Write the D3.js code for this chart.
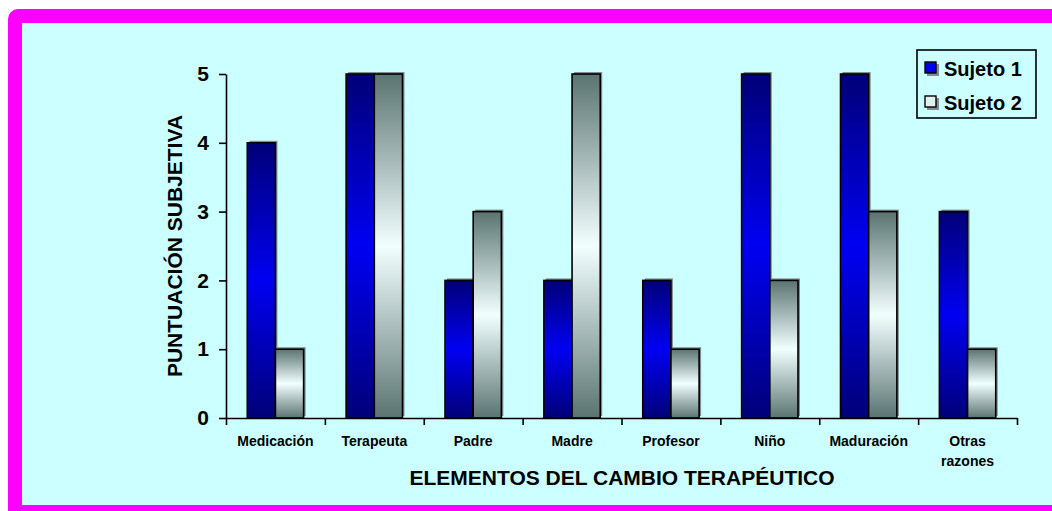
<!DOCTYPE html>
<html>
<head>
<meta charset="utf-8">
<script src="https://cdn.jsdelivr.net/npm/d3@7"></script>
<style>
  body { margin: 0; background: #fff; }
  svg { display: block; font-family: Arial, "Liberation Sans", sans-serif; font-weight: bold; }
</style>
</head>
<body>
<div id="chart"></div>
<script>
const categories = ["Medicación", "Terapeuta", "Padre", "Madre", "Profesor", "Niño", "Maduración", "Otras razones"];
const seriesNames = ["Sujeto 1", "Sujeto 2"];
const sujeto1 = [4, 5, 2, 2, 2, 5, 5, 3];
const sujeto2 = [1, 5, 3, 5, 1, 2, 3, 1];
const yTicks = [0, 1, 2, 3, 4, 5];

const width = 1052;
const height = 511;

const svg = d3
  .select("#chart")
  .append("svg")
  .attr("width", width)
  .attr("height", height);

// gradients (per bar, dark at the edges and light in the middle)
const defs = svg.append("defs");
const gradients = [
  { id: "g1", edge: "#000078", mid: "#0000f2" },
  { id: "g2", edge: "#5a7472", mid: "#f2ffff" }
];
gradients.forEach((g) => {
  const lg = defs.append("linearGradient")
    .attr("id", g.id)
    .attr("x1", 0).attr("y1", 0).attr("x2", 0).attr("y2", 1);
  lg.append("stop").attr("offset", "0%").attr("stop-color", g.edge);
  lg.append("stop").attr("offset", "50%").attr("stop-color", g.mid);
  lg.append("stop").attr("offset", "100%").attr("stop-color", g.edge);
});

// frame
svg.append("rect")
  .attr("x", 8).attr("y", 9)
  .attr("width", width + 20).attr("height", height + 20)
  .attr("rx", 10)
  .attr("fill", "#ff00ff");
svg.append("rect")
  .attr("x", 22).attr("y", 23)
  .attr("width", width - 22).attr("height", 482)
  .attr("fill", "#ccffff");

const plot = { left: 226, right: 1017, top: 74, bottom: 418 };

const x0 = d3.scaleBand()
  .domain(categories)
  .range([plot.left, plot.right])
  .paddingInner(0.43)
  .paddingOuter(0.215);

const x1 = d3.scaleBand()
  .domain(seriesNames)
  .range([0, x0.bandwidth()]);

const y = d3.scaleLinear()
  .domain([0, 5])
  .range([plot.bottom, plot.top]);

const rows = categories.map((c, i) => ({ cat: c, values: [sujeto1[i], sujeto2[i]] }));

const groups = svg.selectAll("g.cat")
  .data(rows)
  .enter()
  .append("g")
  .attr("class", "cat")
  .attr("transform", (d) => `translate(${x0(d.cat)},0)`);

const bars = groups.selectAll("g.bar")
  .data((d) => d.values.map((v, i) => ({ v, s: seriesNames[i], i })))
  .enter()
  .append("g")
  .attr("class", "bar");

// little shadow
bars.append("rect")
  .attr("x", (d) => x1(d.s) + 2)
  .attr("y", (d) => y(d.v) - 2)
  .attr("width", x1.bandwidth())
  .attr("height", (d) => y(0) - y(d.v))
  .attr("fill", "#7f8f8f");

bars.append("rect")
  .attr("x", (d) => x1(d.s))
  .attr("y", (d) => y(d.v))
  .attr("width", x1.bandwidth())
  .attr("height", (d) => y(0) - y(d.v))
  .attr("fill", (d) => `url(#${gradients[d.i].id})`)
  .attr("stroke", "#000")
  .attr("stroke-width", 1.6);

// y axis
const yAxis = svg.append("g")
  .attr("transform", `translate(${plot.left},0)`)
  .call(d3.axisLeft(y).tickValues(yTicks).tickFormat(d3.format("d")).tickSize(7).tickSizeOuter(0).tickPadding(10));
yAxis.select(".domain").attr("stroke-width", 1.6);
yAxis.selectAll(".tick line").attr("stroke-width", 1.6);
yAxis.selectAll(".tick text")
  .attr("font-size", 21)
  .attr("font-family", "Arial, 'Liberation Sans', sans-serif")
  .attr("font-weight", "bold")
  .attr("fill", "#000");

// x axis, ticks between categories
const xb = d3.scaleLinear().domain([0, categories.length]).range([plot.left, plot.right]);
const xAxis = svg.append("g")
  .attr("transform", `translate(0,${plot.bottom})`)
  .call(d3.axisBottom(xb).ticks(categories.length).tickFormat("").tickSize(7).tickSizeOuter(0));
xAxis.select(".domain").attr("stroke-width", 1.6);
xAxis.selectAll(".tick line").attr("stroke-width", 1.6);

// category labels
svg.selectAll("text.cat")
  .data(categories)
  .enter()
  .append("text")
  .attr("class", "cat")
  .attr("x", (d) => x0(d) + x0.bandwidth() / 2)
  .attr("y", 446)
  .attr("text-anchor", "middle")
  .attr("font-size", 14)
  .attr("fill", "#000")
  .each(function (d) {
    const words = d.split(" ");
    const t = d3.select(this);
    words.forEach((w, i) => {
      t.append("tspan")
        .attr("x", x0(d) + x0.bandwidth() / 2)
        .attr("dy", i === 0 ? 0 : 20)
        .text(w);
    });
  });

// axis titles
svg.append("text")
  .attr("x", 622)
  .attr("y", 485)
  .attr("text-anchor", "middle")
  .attr("font-size", 21)
  .text("ELEMENTOS DEL CAMBIO TERAPÉUTICO");

svg.append("text")
  .attr("transform", `translate(182,${(plot.top + plot.bottom) / 2}) rotate(-90)`)
  .attr("text-anchor", "middle")
  .attr("font-size", 21)
  .text("PUNTUACIÓN SUBJETIVA");

// legend
const legend = svg.append("g").attr("transform", "translate(917,50)");
legend.append("rect")
  .attr("width", 119).attr("height", 68)
  .attr("fill", "none")
  .attr("stroke", "#000")
  .attr("stroke-width", 1.6);

const items = legend.selectAll("g.item")
  .data(seriesNames)
  .enter()
  .append("g")
  .attr("class", "item")
  .attr("transform", (d, i) => `translate(0,${19 + i * 34})`);

items.append("rect")
  .attr("x", 10).attr("y", -5)
  .attr("width", 12).attr("height", 12)
  .attr("fill", "#7f8f8f");
items.append("rect")
  .attr("x", 8).attr("y", -7)
  .attr("width", 11).attr("height", 11)
  .attr("fill", (d, i) => (i === 0 ? "#0000ee" : "#e0f0f0"))
  .attr("stroke", "#000")
  .attr("stroke-width", 1.4);

items.append("text")
  .attr("x", 27)
  .attr("y", 7)
  .attr("font-size", 20)
  .text((d) => d);
</script>
</body>
</html>
